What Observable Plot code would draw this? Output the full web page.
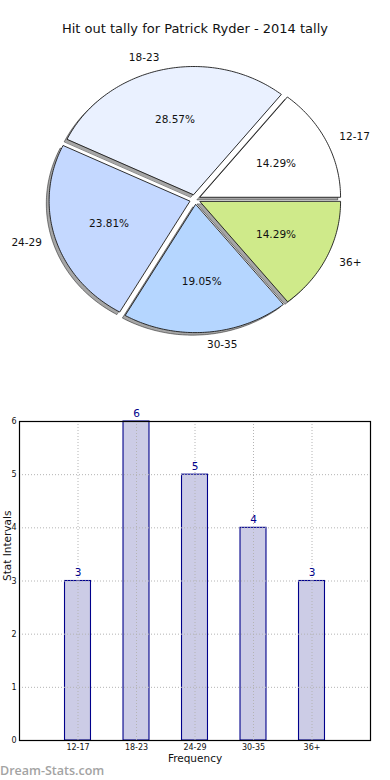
<!DOCTYPE html>
<html>
<head>
<meta charset="utf-8">
<script src="https://cdn.jsdelivr.net/npm/d3@7"></script>
<script src="https://cdn.jsdelivr.net/npm/@observablehq/plot@0.6"></script>
<style>
  html, body { margin: 0; padding: 0; background: #fff; }
  #wrap { position: relative; width: 390px; height: 780px; overflow: hidden; font-family: "DejaVu Sans", sans-serif; }
  #title { position: absolute; top: 21px; left: 0; width: 390px; text-align: center; font-size: 13px; color: #111; }
  #pie { position: absolute; top: 0; left: 0; }
  #bars { position: absolute; top: 390px; left: 0; }
  #mark { position: absolute; left: 0; top: 762px; font-family: "Open Sans", sans-serif; font-weight: 600; font-size: 12.5px; color: #a3a3a3; }
  svg { overflow: visible; }
</style>
</head>
<body>
<div id="wrap">
  <div id="pie"></div>
  <div id="title">Hit out tally for Patrick Ryder - 2014 tally</div>
  <div id="bars"></div>
  <div id="mark">Dream-Stats.com</div>
</div>
<script>
// ---- data ----
const categories = ["12-17", "18-23", "24-29", "30-35", "36+"];
const counts = [3, 6, 5, 4, 3];
const sliceColors = ["#ffffff", "#eaf1ff", "#c4d8ff", "#b5d6ff", "#cfea8a"];
const yTicks = [0, 1, 2, 3, 4, 5, 6];
const chartTitle = "Hit out tally for Patrick Ryder - 2014 tally";
const xLabel = "Frequency";
const yLabel = "Stat Intervals";

// ---- pie geometry (unit radius, start at 0 rad, counter-clockwise) ----
const explode = 0.04;
const shadowOffset = -0.02;
const total = d3.sum(counts);
let acc = 0;
const slices = categories.map((c, i) => {
  const a0 = acc / total * 2 * Math.PI;
  acc += counts[i];
  const a1 = acc / total * 2 * Math.PI;
  const am = (a0 + a1) / 2;
  return { c, v: counts[i], color: sliceColors[i], a0, a1, am,
           ox: explode * Math.cos(am), oy: explode * Math.sin(am),
           pct: counts[i] / total * 100 };
});
function wedge(s, dx, dy) {
  const pts = [{x: s.ox + dx, y: s.oy + dy}];
  const n = Math.max(8, Math.ceil((s.a1 - s.a0) / (Math.PI / 180)));
  for (let k = 0; k <= n; k++) {
    const a = s.a0 + (s.a1 - s.a0) * k / n;
    pts.push({x: s.ox + dx + Math.cos(a), y: s.oy + dy + Math.sin(a)});
  }
  return pts;
}

const pxX = 140.5, pxY = 128, cx = 194.5, cy = 199, W = 390, H = 390;
const pie = Plot.plot({
  width: W, height: H, margin: 0,
  style: {fontFamily: "DejaVu Sans", fontSize: "10.5px", background: "transparent", color: "#111"},
  x: {domain: [-cx / pxX, (W - cx) / pxX], axis: null},
  y: {domain: [-(H - cy) / pxY, cy / pxY], axis: null},
  marks: [
    ...slices.map(s => Plot.line(wedge(s, shadowOffset, shadowOffset), {
      x: "x", y: "y", curve: "linear-closed",
      fill: "#4d4d4d", fillOpacity: 0.5, stroke: "#000", strokeOpacity: 0.45, strokeWidth: 1
    })),
    ...slices.map(s => Plot.line(wedge(s, 0, 0), {
      x: "x", y: "y", curve: "linear-closed",
      fill: s.color, stroke: "#1a1a1a", strokeWidth: 0.9, strokeLinejoin: "miter"
    })),
    Plot.text(slices.filter(s => Math.cos(s.am) >= 0), {
      x: s => s.ox + 1.1 * Math.cos(s.am), y: s => s.oy + 1.1 * Math.sin(s.am),
      text: "c", textAnchor: "start", fill: "#111"
    }),
    Plot.text(slices.filter(s => Math.cos(s.am) < 0), {
      x: s => s.ox + 1.1 * Math.cos(s.am), y: s => s.oy + 1.1 * Math.sin(s.am),
      text: "c", textAnchor: "end", fill: "#111"
    }),
    Plot.text(slices, {
      x: s => s.ox + 0.6 * Math.cos(s.am), y: s => s.oy + 0.6 * Math.sin(s.am),
      text: s => s.pct.toFixed(2) + "%", fill: "#111"
    })
  ]
});
document.getElementById("pie").appendChild(pie);
document.getElementById("title").textContent = chartTitle;

// ---- bar chart ----
const barData = categories.map((c, i) => ({c, v: counts[i]}));
const gridStyle = {stroke: "#b4b4b4", strokeWidth: 1, strokeDasharray: "1,2"};
const bars = Plot.plot({
  width: 390, height: 390,
  marginTop: 31, marginBottom: 40, marginLeft: 19, marginRight: 20,
  style: {fontFamily: "DejaVu Sans", fontSize: "8px", background: "transparent", color: "#111"},
  x: {domain: categories, paddingInner: 0.556, paddingOuter: 0.778, align: 0.5, round: false,
      tickSize: 0, tickPadding: 4, label: null},
  y: {domain: [0, 6], ticks: yTicks, tickFormat: d => String(d), tickSize: 0, tickPadding: 3, label: null},
  marks: [
    Plot.barY(barData, {x: "c", y: "v", fill: "#cccce6", stroke: "#00008b", strokeWidth: 1.1}),
    Plot.ruleX(categories, {x: d => d, ...gridStyle}),
    Plot.ruleY(yTicks, {y: d => d, ...gridStyle}),
    Plot.frame({stroke: "#000", strokeWidth: 1.2}),
    Plot.text(barData, {x: "c", y: "v", text: d => String(d.v), dy: -8, fill: "#00008b", fontSize: 10.5}),
    Plot.text([xLabel], {frameAnchor: "bottom", text: d => d, dy: 21, fontSize: 10.5, fill: "#111"}),
    Plot.text([yLabel], {frameAnchor: "left", text: d => d, rotate: -90, dx: -12, fontSize: 10.5, fill: "#111"})
  ]
});
document.getElementById("bars").appendChild(bars);
</script>
</body>
</html>
